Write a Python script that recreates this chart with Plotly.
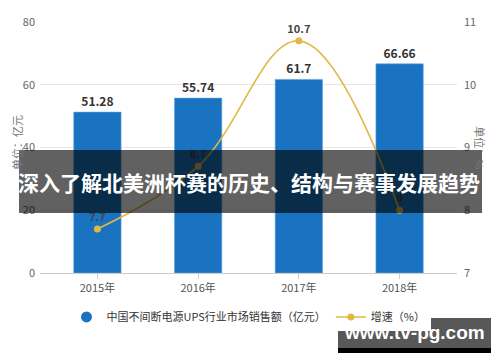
import plotly.graph_objects as go

years = ["2015年", "2016年", "2017年", "2018年"]
sales = [51.28, 55.74, 61.7, 66.66]
sales_labels = ["51.28", "55.74", "61.7", "66.66"]
growth = [7.7, 8.7, 10.7, 8.0]
growth_labels = ["7.7", "8.7", "10.7", "8"]

name_sales = "中国不间断电源UPS行业市场销售额（亿元）"
name_growth = "增速（%）"
banner_text = "深入了解北美洲杯赛的历史、结构与赛事发展趋势"
site_text = "www.tv-pg.com"

FONT = "Noto Sans CJK SC, Noto Sans, sans-serif"
BLUE = "#1a73c0"
GOLD = "#e2b845"

fig = go.Figure()

fig.add_trace(go.Bar(
    x=years, y=sales, name=name_sales, showlegend=False,
    marker=dict(color=BLUE, line=dict(color="#5aa7e0", width=0.6)),
    text=["<b>" + s + "</b>" for s in sales_labels],
    textposition="outside", cliponaxis=False,
    textfont=dict(family=FONT, size=12, color="#333333"),
    width=0.47,
))
# legend entry with circle symbol for the bars
fig.add_trace(go.Scatter(
    x=[None], y=[None], mode="markers", name=name_sales,
    marker=dict(color=BLUE, size=11, symbol="circle"),
))
fig.add_trace(go.Scatter(
    x=years, y=growth, name=name_growth, yaxis="y2",
    mode="lines+markers+text",
    line=dict(color=GOLD, width=1.6, shape="spline", smoothing=1.1),
    marker=dict(color=GOLD, size=7),
    text=["<b>" + s + "</b>" for s in growth_labels],
    textposition="top center", cliponaxis=False,
    textfont=dict(family=FONT, size=11, color="#444444"),
))

fig.update_layout(
    width=500, height=362,
    margin=dict(l=40, r=43, t=22, b=89),
    paper_bgcolor="white", plot_bgcolor="white",
    font=dict(family=FONT, size=11, color="#666666"),
    bargap=0.53,
    xaxis=dict(
        range=[-0.57, 3.57], showgrid=False,
        showline=True, linecolor="#cccccc", linewidth=1,
        ticks="outside", ticklen=5, tickcolor="#cccccc",
        tickfont=dict(family=FONT, size=11, color="#555555"),
    ),
    yaxis=dict(
        range=[0, 80], dtick=20, showgrid=True, gridcolor="#e6e6e6",
        zeroline=False, tickfont=dict(family=FONT, size=11, color="#666666"),
        ticklabelstandoff=4,
    ),
    yaxis2=dict(
        range=[7, 11], dtick=1, overlaying="y", side="right",
        showgrid=False, zeroline=False,
        tickfont=dict(family=FONT, size=11, color="#666666"),
        ticklabelstandoff=6,
    ),
    legend=dict(
        orientation="h", x=0.5, xanchor="center", y=-0.175, yanchor="middle",
        font=dict(family=FONT, size=11, color="#333333"),
        itemwidth=30, traceorder="normal",
    ),
    annotations=[
        dict(text="单位：亿元", xref="paper", yref="paper", x=-0.078, y=0.52,
             showarrow=False, textangle=-90,
             font=dict(family=FONT, size=11, color="#777777")),
        dict(text="单位：%", xref="paper", yref="paper", x=1.08, y=0.5,
             showarrow=False, textangle=90,
             font=dict(family=FONT, size=11, color="#777777")),
        dict(text="<b>" + banner_text + "</b>", xref="paper", yref="paper",
             x=0.5, y=(273 - 182) / 251, xanchor="center", yanchor="middle",
             showarrow=False, font=dict(family=FONT, size=21, color="white")),
        dict(text="<b>" + site_text + "</b>", xref="paper", yref="paper",
             x=(414 - 40) / 417, y=(273 - 332) / 251, xanchor="center",
             yanchor="middle", showarrow=False,
             font=dict(family="Liberation Sans, Arial, sans-serif", size=19, color="white")),
    ],
    shapes=[
        dict(type="rect", xref="paper", yref="paper",
             x0=(19 - 40) / 417, x1=(482 - 40) / 417,
             y0=(273 - 150) / 251, y1=(273 - 213) / 251,
             fillcolor="rgba(0,0,0,0.62)", line=dict(width=0), layer="above"),
        dict(type="rect", xref="paper", yref="paper",
             x0=(338 - 40) / 417, x1=(491 - 40) / 417,
             y0=(273 - 318) / 251, y1=(273 - 348) / 251,
             fillcolor="rgba(70,70,70,0.9)", line=dict(width=0), layer="above"),
        dict(type="rect", xref="paper", yref="paper",
             x0=(338 - 40) / 417, x1=(491 - 40) / 417,
             y0=(273 - 348) / 251, y1=(273 - 353) / 251,
             fillcolor="black", line=dict(width=0), layer="above"),
    ],
)

fig.write_html("out.html")
